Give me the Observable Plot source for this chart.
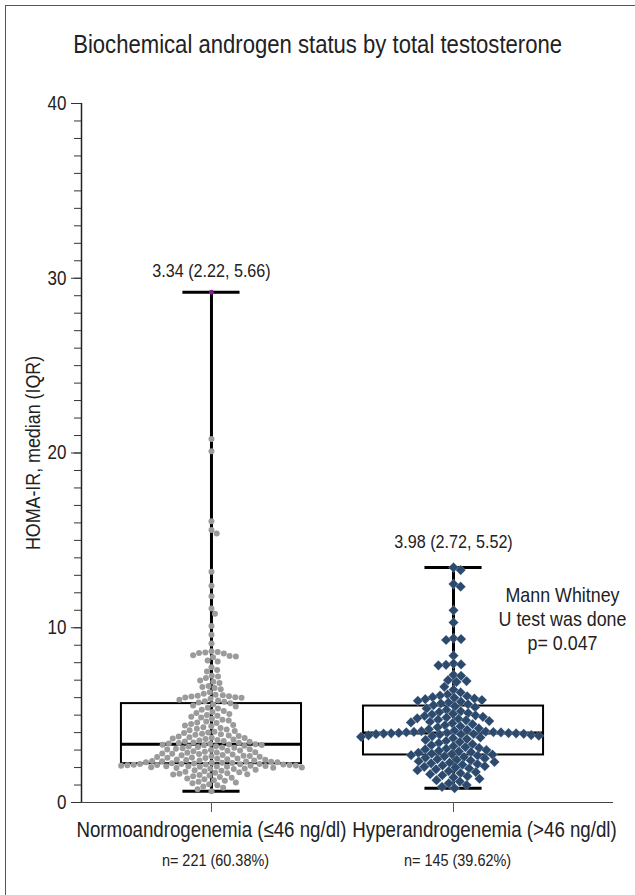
<!DOCTYPE html>
<html><head><meta charset="utf-8">
<script src="https://cdn.jsdelivr.net/npm/d3@7"></script>
<script src="https://cdn.jsdelivr.net/npm/@observablehq/plot@0.6"></script>
<style>
body{margin:0;background:#fff;}
#fig{position:relative;width:635px;height:895px;overflow:hidden;background:#fff;font-family:"Liberation Sans",Arial,sans-serif;color:#222;}
#border{position:absolute;left:5px;top:5px;width:700px;height:1000px;border-top:1px solid #555;border-left:1px solid #555;pointer-events:none;}
#title{height:80px;box-sizing:border-box;padding-top:29px;text-align:center;font-size:26px;line-height:30px;}
#title span{display:inline-block;transform:scaleX(0.85);transform-origin:50% 50%;white-space:nowrap;}
svg{display:block;}
</style></head>
<body><div id="fig"><div id="border"></div><div id="title"><span>Biochemical androgen status by total testosterone</span></div><div id="chart"></div></div>
<script>
// ---- data ----
const groups = ["Normoandrogenemia (≤46 ng/dl)", "Hyperandrogenemia (>46 ng/dl)"];
const nLabels = ["n= 221 (60.38%)", "n= 145 (39.62%)"];
const medians = [3.34, 3.98];
const q1s = [2.22, 2.72];
const q3s = [5.66, 5.52];
const yTicks = [0, 10, 20, 30, 40];
const yLabel = "HOMA-IR, median (IQR)";
const testNote = "Mann Whitney\nU test was done\np= 0.047";

const normo = [
 29.2, 20.8, 20.1, 16.1, 15.6, 15.4, 13.2, 12.4, 11.8, 11.1, 10.8, 10.1, 9.6, 9.1,
 8.66, 8.61, 8.58, 8.55, 8.52, 8.43, 8.38, 8.35, 8.31, 8.12, 8.07,
 7.74, 7.58, 7.49, 7.26, 7.21, 7.13, 6.98,
 6.91, 6.84, 6.67, 6.61, 6.55, 6.48, 6.31, 6.22, 6.16, 6.14, 6.11, 6.08, 6.06, 6.03, 6.01, 5.99,
 5.94, 5.88, 5.83, 5.79, 5.76, 5.72, 5.68,
 5.61, 5.55, 5.49, 5.42, 5.38, 5.31, 5.24, 5.18, 5.12, 5.07, 5.01, 4.96, 4.91, 4.86, 4.79, 4.74, 4.69, 4.63, 4.58, 4.55,
 4.49, 4.44, 4.41, 4.36, 4.31, 4.27, 4.22, 4.18, 4.14, 4.09, 4.05, 4.01, 3.97, 3.94, 3.91, 3.87, 3.84, 3.81, 3.78, 3.74,
 3.71, 3.69, 3.66, 3.63, 3.6, 3.57, 3.55, 3.52, 3.49, 3.47, 3.44, 3.42, 3.4, 3.38, 3.36,
 3.34,
 3.32, 3.3, 3.29, 3.27, 3.25, 3.22, 3.2, 3.18, 3.15, 3.13, 3.1, 3.08, 3.05, 3.03, 3.0, 2.98, 2.96, 2.93, 2.91, 2.88,
 2.86, 2.84, 2.81, 2.79, 2.77, 2.75, 2.72, 2.7, 2.68, 2.66, 2.64, 2.62, 2.6, 2.58, 2.56, 2.54, 2.52, 2.5, 2.48, 2.46,
 2.45, 2.43, 2.41, 2.4, 2.38, 2.36, 2.35, 2.33, 2.31, 2.3, 2.28, 2.27, 2.26, 2.24, 2.23,
 2.21, 2.2, 2.2, 2.19, 2.18, 2.17, 2.16, 2.15, 2.14, 2.13, 2.12, 2.11, 2.1, 2.09, 2.08, 2.07, 2.06, 2.05, 2.04, 2.02,
 2.01, 1.99, 1.97, 1.95, 1.93, 1.91,
 1.88, 1.85, 1.82, 1.79, 1.76, 1.73, 1.7, 1.68, 1.65, 1.62, 1.6, 1.57, 1.54, 1.5, 1.46,
 1.42, 1.37, 1.33, 1.28, 1.24, 1.19, 1.15, 1.1, 1.04, 0.98,
 0.91, 0.84, 0.76, 0.65
];
const hyper = [
 13.45, 13.3, 12.5, 12.35, 11.0, 10.3, 9.4, 9.35, 9.3, 8.4, 7.95, 7.9, 7.88, 7.85, 7.3, 7.25, 7.0, 6.95, 6.9,
 6.62, 6.45, 6.3, 6.18, 6.12, 6.08, 6.03, 5.99, 5.95, 5.91, 5.86, 5.82, 5.77, 5.72, 5.67, 5.62, 5.57,
 5.5, 5.45, 5.38, 5.3, 5.22, 5.17, 5.12, 5.08, 5.04, 4.99, 4.95, 4.9, 4.86, 4.82, 4.78, 4.74, 4.7, 4.66, 4.62, 4.58,
 4.53, 4.48, 4.42, 4.36, 4.3, 4.24, 4.19, 4.15, 4.11, 4.08, 4.06, 4.04, 4.03, 4.02, 4.01, 3.99,
 3.98,
 3.97, 3.96, 3.95, 3.94, 3.93, 3.92, 3.91, 3.9, 3.88, 3.86, 3.84, 3.82, 3.79, 3.76, 3.72, 3.68, 3.63, 3.58, 3.52, 3.46,
 3.4, 3.34, 3.28, 3.22, 3.17, 3.12, 3.08, 3.04, 3.0, 2.96, 2.92, 2.88, 2.84, 2.8, 2.77, 2.74,
 2.71, 2.68, 2.64, 2.6, 2.56, 2.52, 2.48, 2.44, 2.4, 2.36, 2.32, 2.28, 2.24, 2.2, 2.16, 2.12, 2.08, 2.04, 2.0, 1.95,
 1.9, 1.85, 1.8, 1.74, 1.68, 1.62, 1.56, 1.5, 1.44, 1.36, 1.28, 1.2, 1.1, 1.0, 0.9, 0.82
];
const series = [normo, hyper];

// ---- layout ----
const W = 635, H = 815, mT = 23, mB = 93, mL = 81, mR = 22;
const xDomain = [-0.537, 1.661];
const pxPerUnit = (W - mR - mL) / (xDomain[1] - xDomain[0]);
const yScale = Plot.scale({y: {domain: [0, 40], range: [H - mB, mT]}});
const font = '"Liberation Sans",Arial,sans-serif';
const squeeze = 0.85;

function swarm(values, g, diam) {
  const pts = values.map(v => ({v, g, py: yScale.apply(v), px: 0}));
  const order = pts.slice().sort((a, b) => a.py - b.py);
  const placed = [];
  for (const p of order) {
    const near = placed.filter(q => Math.abs(q.py - p.py) < diam);
    const cands = [0];
    for (const q of near) {
      const dx = Math.sqrt(diam * diam - (q.py - p.py) ** 2);
      cands.push(q.px + dx, q.px - dx);
    }
    cands.sort((a, b) => Math.abs(a) - Math.abs(b));
    for (const c of cands) {
      if (near.every(q => (q.px - c) ** 2 + (q.py - p.py) ** 2 >= diam * diam - 1e-6)) { p.px = c; break; }
    }
    placed.push(p);
  }
  return pts.map(p => ({...p, x: g + p.px / pxPerUnit}));
}
const ptsN = swarm(normo, 0, 6.3);
const ptsH = swarm(hyper, 1, 7.6);

const stats = series.map((s, i) => ({
  g: i, q1: q1s[i], q3: q3s[i], med: medians[i], lo: d3.min(s), hi: d3.max(s),
  label: `${medians[i].toFixed(2)} (${q1s[i].toFixed(2)}, ${q3s[i].toFixed(2)})`
}));
const boxHalf = 0.372, capHalf = 0.118;
const maxN = d3.max(normo);

const chart = Plot.plot({
  width: W, height: H, marginTop: mT, marginBottom: mB, marginLeft: mL, marginRight: mR,
  x: {domain: xDomain, axis: null},
  y: {domain: [0, 40], axis: null},
  style: {fontFamily: font, color: "#222", background: "transparent", overflow: "visible"},
  marks: [
    Plot.axisY({ticks: d3.range(0, 41), tickSize: 7, tickFormat: () => "", stroke: "#333"}),
    Plot.axisY({ticks: yTicks, tickSize: 10, tickPadding: 5, fontSize: 20, stroke: "#333", fill: "#222"}),
    Plot.ruleX([xDomain[0]], {y1: 0, y2: 40, stroke: "#222", strokeWidth: 1.5}),
    Plot.ruleY([0], {stroke: "#444", strokeWidth: 1.2}),
    Plot.axisX({ticks: [0, 1], tickSize: 10, tickFormat: () => "", stroke: "#555"}),
    Plot.text(groups.slice(0, 1), {x: (d, i) => i, frameAnchor: "bottom", dy: 34, fontSize: 22, fill: "#222"}),
    Plot.text(groups.slice(1), {x: (d, i) => i + 1, frameAnchor: "bottom", dy: 34, dx: 31, fontSize: 22, fill: "#222"}),
    Plot.text(nLabels, {x: (d, i) => i, frameAnchor: "bottom", dy: 63, dx: 4, fontSize: 17, fill: "#222"}),
    Plot.text([yLabel], {frameAnchor: "left", textAnchor: "middle", rotate: -90, dx: -48, fontSize: 21, fill: "#222"}),
    // whiskers
    Plot.ruleX(stats, {x: "g", y1: "lo", y2: "hi", stroke: "#000", strokeWidth: 3}),
    Plot.ruleY(stats, {y: "hi", x1: d => d.g - capHalf, x2: d => d.g + capHalf, stroke: "#000", strokeWidth: 3}),
    Plot.ruleY(stats, {y: "lo", x1: d => d.g - capHalf, x2: d => d.g + capHalf, stroke: "#000", strokeWidth: 3}),
    // box
    Plot.rect(stats, {x1: d => d.g - boxHalf, x2: d => d.g + boxHalf, y1: "q1", y2: "q3", fill: "none", stroke: "#000", strokeWidth: 2}),
    Plot.ruleY(stats, {y: "med", x1: d => d.g - boxHalf, x2: d => d.g + boxHalf, stroke: "#000", strokeWidth: 3}),
    // points
    Plot.dot(ptsN, {x: "x", y: "v", r: d => d.v === maxN ? 2.3 : 3.4, fill: d => d.v === maxN ? "#8a1a9b" : "#9b9b9b"}),
    Plot.dot(ptsH, {x: "x", y: "v", symbol: "diamond2", r: 4.6, fill: "#2c4a6e", stroke: "#ffffff", strokeWidth: 0.4, strokeOpacity: 0.6}),
    // annotations
    Plot.text(stats.filter(d => d.g === 0), {x: "g", y: "hi", text: "label", dy: -21, fontSize: 19, fill: "#222"}),
    Plot.text(stats.filter(d => d.g === 1), {x: "g", y: "hi", text: "label", dy: -26, fontSize: 19, fill: "#222"}),
    Plot.text([testNote], {frameAnchor: "top-right", dx: -51, dy: 515, textAnchor: "middle", lineAnchor: "middle", fontSize: 21, lineHeight: 1.14, fill: "#222"})
  ]
});
document.getElementById("chart").appendChild(chart);
// condense every label horizontally about its own anchor (narrow typeface look)
chart.querySelectorAll("text").forEach(t => {
  const tr = t.getAttribute("transform") || "";
  t.setAttribute("transform", `${tr} scale(${squeeze},1)`.trim());
});
</script></body></html>
